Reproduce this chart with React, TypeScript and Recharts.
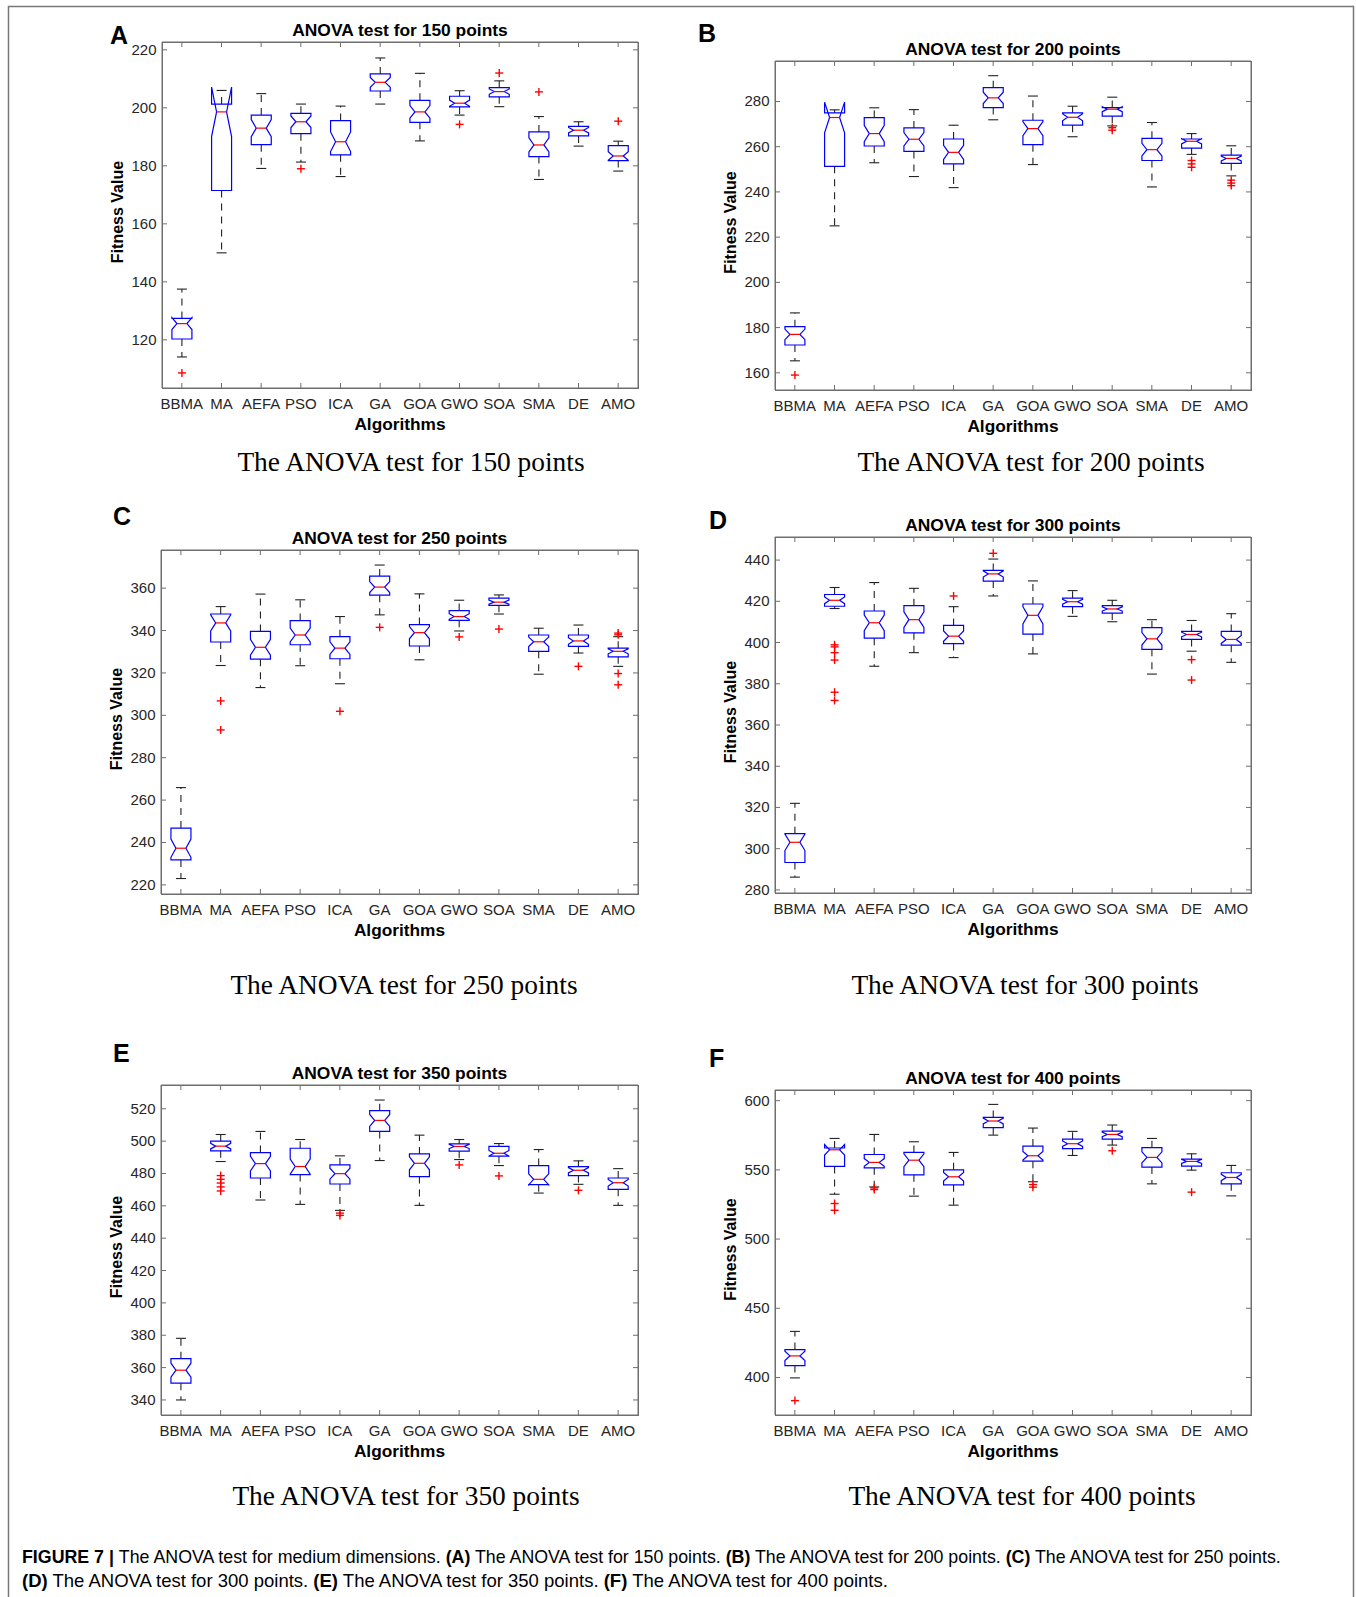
import React from 'react';
import { ComposedChart, Bar, Line, XAxis, YAxis } from 'recharts';

const algorithms = ['BBMA', 'MA', 'AEFA', 'PSO', 'ICA', 'GA', 'GOA', 'GWO', 'SOA', 'SMA', 'DE', 'AMO'];

// Each row: [lower whisker, Q1, median, Q3, upper whisker]
const box150: number[][] = [
  [114.1, 120.3, 125.6, 127.4, 137.5],
  [150.0, 171.5, 198.6, 201.3, 206.0],
  [179.1, 187.3, 193.0, 197.5, 204.9],
  [181.3, 191.1, 195.2, 198.1, 201.3],
  [176.3, 183.8, 188.3, 195.6, 200.6],
  [201.3, 205.8, 208.8, 211.7, 217.2],
  [188.6, 195.0, 198.6, 202.6, 211.9],
  [197.5, 200.3, 201.6, 204.0, 205.9],
  [200.4, 203.8, 205.6, 207.0, 209.3],
  [175.3, 183.2, 187.2, 191.7, 197.0],
  [186.8, 190.3, 192.3, 193.6, 195.2],
  [178.2, 181.8, 183.4, 187.0, 188.5],
];
const out150: number[][] = [[108.6], [], [], [179.0], [], [], [], [194.3], [212.0], [205.5], [], [195.4]];
const ticks150 = [120, 140, 160, 180, 200, 220];
const domain150: [number, number] = [103.4, 222.7];

const box200: number[][] = [
  [165.3, 172.3, 177.0, 180.4, 186.5],
  [225.0, 251.3, 272.9, 275.0, 276.3],
  [252.9, 260.3, 265.8, 272.9, 277.2],
  [246.8, 257.9, 263.3, 268.3, 276.4],
  [241.9, 252.4, 257.5, 263.4, 269.5],
  [271.9, 277.3, 281.6, 286.1, 291.4],
  [252.1, 260.9, 268.0, 271.7, 282.4],
  [264.4, 269.5, 273.0, 275.0, 277.9],
  [269.2, 273.5, 276.6, 277.3, 281.9],
  [242.2, 253.9, 258.7, 263.7, 270.7],
  [256.6, 259.4, 262.4, 263.4, 265.8],
  [247.1, 252.6, 254.8, 256.3, 260.4],
];
const out200: number[][] = [[159.0], [], [], [], [], [], [], [], [268.4, 267.3], [], [253.9, 252.4, 250.9], [245.2, 243.9, 242.8]];
const ticks200 = [160, 180, 200, 220, 240, 260, 280];
const domain200: [number, number] = [152.4, 297.9];

const box250: number[][] = [
  [223.0, 231.8, 237.3, 246.8, 265.9],
  [323.5, 334.6, 343.6, 347.8, 351.3],
  [313.1, 326.5, 332.1, 339.6, 357.2],
  [323.4, 333.3, 337.9, 344.7, 354.5],
  [314.9, 326.7, 331.7, 337.1, 346.6],
  [347.4, 356.7, 360.5, 365.7, 370.9],
  [326.2, 332.7, 339.0, 342.8, 357.3],
  [339.8, 344.8, 346.6, 349.4, 354.3],
  [347.8, 351.9, 353.4, 355.3, 356.8],
  [319.4, 330.2, 334.7, 337.9, 341.1],
  [329.4, 332.5, 335.1, 337.9, 342.6],
  [323.1, 327.6, 330.2, 331.7, 337.1],
];
const out250: number[][] = [[], [306.8, 293.1], [], [], [301.9], [341.5], [], [337.0], [340.7], [], [323.1], [338.8, 338.0, 319.7, 314.4]];
const ticks250 = [220, 240, 260, 280, 300, 320, 340, 360];
const domain250: [number, number] = [215.7, 378.0];

const box300: number[][] = [
  [286.2, 293.3, 303.1, 307.3, 322.0],
  [416.5, 417.6, 420.5, 423.3, 426.7],
  [388.5, 402.1, 409.6, 415.3, 429.1],
  [395.1, 404.7, 411.1, 417.9, 426.3],
  [392.7, 399.5, 403.1, 408.3, 417.4],
  [422.6, 429.8, 433.3, 435.0, 440.5],
  [394.5, 404.1, 413.2, 418.7, 429.9],
  [412.7, 417.4, 419.8, 421.5, 425.2],
  [410.1, 414.3, 416.3, 417.9, 420.5],
  [384.7, 396.7, 401.8, 407.2, 411.1],
  [395.8, 401.5, 403.9, 405.4, 410.7],
  [390.4, 398.7, 401.5, 405.4, 414.0],
];
const out300: number[][] = [[], [398.9, 397.9, 395.1, 391.5, 375.9, 371.9], [], [], [422.6], [443.3], [], [], [], [], [391.7, 381.8], []];
const ticks300 = [280, 300, 320, 340, 360, 380, 400, 420, 440];
const domain300: [number, number] = [278.5, 451.2];

const box350: number[][] = [
  [340.0, 350.4, 358.4, 365.5, 378.1],
  [487.4, 494.0, 496.9, 500.0, 504.1],
  [463.6, 477.2, 486.1, 492.9, 506.0],
  [460.9, 479.3, 484.3, 495.6, 501.0],
  [457.2, 473.5, 479.9, 485.3, 490.9],
  [488.0, 506.0, 512.8, 518.8, 525.4],
  [460.3, 478.1, 486.3, 492.1, 503.7],
  [488.6, 493.8, 496.7, 498.3, 501.0],
  [484.9, 490.7, 492.5, 496.7, 498.5],
  [467.9, 473.1, 476.4, 484.9, 494.8],
  [473.3, 478.7, 482.0, 484.3, 487.8],
  [460.3, 470.2, 474.3, 477.2, 483.0],
];
const out350: number[][] = [[], [478.7, 476.4, 474.1, 471.7, 469.2], [], [], [455.5, 454.1], [], [], [485.3], [478.5], [], [469.6], []];
const ticks350 = [340, 360, 380, 400, 420, 440, 460, 480, 500, 520];
const domain350: [number, number] = [330.7, 534.7];

const box400: number[][] = [
  [399.7, 408.6, 415.6, 420.2, 433.3],
  [532.4, 552.5, 564.5, 565.8, 572.7],
  [537.7, 551.5, 555.4, 561.1, 575.6],
  [531.0, 546.4, 557.0, 562.6, 570.3],
  [524.5, 539.2, 545.0, 550.0, 562.6],
  [575.1, 580.5, 585.3, 587.9, 597.3],
  [541.4, 556.3, 560.2, 567.2, 580.2],
  [560.4, 565.3, 568.9, 572.2, 577.8],
  [567.9, 572.2, 575.6, 578.0, 582.4],
  [539.9, 552.0, 559.0, 566.0, 572.7],
  [549.8, 552.7, 556.1, 557.8, 561.6],
  [531.2, 539.9, 544.5, 547.9, 553.2],
];
const out400: number[][] = [[383.3], [525.7, 520.8], [537.0, 535.8], [], [], [], [539.4, 537.5], [], [563.8], [], [533.9], []];
const ticks400 = [400, 450, 500, 550, 600];
const domain400: [number, number] = [372.9, 607.7];

const N_RUNS = 30;

const SANS = '"Liberation Sans", Arial, Helvetica, sans-serif';
const SERIF = '"Liberation Serif", "Times New Roman", serif';
const AXIS = '#6e6e6e';
const TXT = '#262626';
const TICK_LEN = 5;

type PanelCfg = {
  letter: string;
  title: string;
  caption: string;
  box: number[][];
  out: number[][];
  ticks: number[];
  domain: [number, number];
  L: number; T: number; R: number; B: number;
  letterPos: [number, number];
  capPos: [number, number];
};

const panels: PanelCfg[] = [
  { letter: 'A', title: 'ANOVA test for 150 points', caption: 'The ANOVA test for 150 points', box: box150, out: out150, ticks: ticks150, domain: domain150, L: 162, T: 42, R: 638, B: 388, letterPos: [110, 44], capPos: [411, 471] },
  { letter: 'B', title: 'ANOVA test for 200 points', caption: 'The ANOVA test for 200 points', box: box200, out: out200, ticks: ticks200, domain: domain200, L: 775, T: 61, R: 1251, B: 390, letterPos: [698, 42], capPos: [1031, 471] },
  { letter: 'C', title: 'ANOVA test for 250 points', caption: 'The ANOVA test for 250 points', box: box250, out: out250, ticks: ticks250, domain: domain250, L: 161, T: 550, R: 638, B: 894, letterPos: [113, 525], capPos: [404, 994] },
  { letter: 'D', title: 'ANOVA test for 300 points', caption: 'The ANOVA test for 300 points', box: box300, out: out300, ticks: ticks300, domain: domain300, L: 775, T: 537, R: 1251, B: 893, letterPos: [709, 529], capPos: [1025, 994] },
  { letter: 'E', title: 'ANOVA test for 350 points', caption: 'The ANOVA test for 350 points', box: box350, out: out350, ticks: ticks350, domain: domain350, L: 161, T: 1085, R: 638, B: 1415, letterPos: [113, 1062], capPos: [406, 1505] },
  { letter: 'F', title: 'ANOVA test for 400 points', caption: 'The ANOVA test for 400 points', box: box400, out: out400, ticks: ticks400, domain: domain400, L: 775, T: 1090, R: 1251, B: 1415, letterPos: [709, 1067], capPos: [1022, 1505] },
];

function BoxShape(props: any) {
  const { x, y, width, height, payload } = props;
  if (!payload || !isFinite(y) || !isFinite(height)) return null;
  const { lo, q1, med, q3, hi, out } = payload;
  const py = (v: number) => y + (height * (hi - v)) / (hi - lo);
  const cx = x + width / 2;
  const half = (1.57 * (q3 - q1)) / Math.sqrt(N_RUNS);
  const nLo = med - half;
  const nHi = med + half;
  const l = x;
  const r = x + width;
  const nl = x + width * 0.25;
  const nr = x + width * 0.75;
  const pts = [
    [l, py(q1)], [l, py(nLo)], [nl, py(med)], [l, py(nHi)], [l, py(q3)],
    [r, py(q3)], [r, py(nHi)], [nr, py(med)], [r, py(nLo)], [r, py(q1)],
  ].map((p) => `${p[0]},${p[1]}`).join(' ');
  const capHalf = width / 4;
  return (
    <g>
      <line x1={cx} x2={cx} y1={py(q3)} y2={py(hi)} stroke="#222" strokeWidth={1.1} strokeDasharray="7 6" />
      <line x1={cx} x2={cx} y1={py(q1)} y2={py(lo)} stroke="#222" strokeWidth={1.1} strokeDasharray="7 6" />
      <line x1={cx - capHalf} x2={cx + capHalf} y1={py(hi)} y2={py(hi)} stroke="#222" strokeWidth={1.1} />
      <line x1={cx - capHalf} x2={cx + capHalf} y1={py(lo)} y2={py(lo)} stroke="#222" strokeWidth={1.1} />
      <polygon points={pts} fill="none" stroke="#0000ff" strokeWidth={1.2} />
      <line x1={nl} x2={nr} y1={py(med)} y2={py(med)} stroke="#ff0000" strokeWidth={1.2} />
      {(out as number[]).map((v, i) => (
        <g key={i}>
          <line x1={cx - 4} x2={cx + 4} y1={py(v)} y2={py(v)} stroke="#ff0000" strokeWidth={1.4} />
          <line x1={cx} x2={cx} y1={py(v) - 4} y2={py(v) + 4} stroke="#ff0000" strokeWidth={1.4} />
        </g>
      ))}
    </g>
  );
}

function BottomTick(p: any) {
  const { x, y, payload } = p;
  return (
    <g>
      <line x1={x} x2={x} y1={y} y2={y - TICK_LEN} stroke={AXIS} strokeWidth={1} />
      <text x={x} y={y + 20.5} textAnchor="middle" fontSize={15} fontFamily={SANS} fill={TXT}>{payload.value}</text>
    </g>
  );
}
function TopTick(p: any) {
  const { x, y } = p;
  return <line x1={x} x2={x} y1={y} y2={y + TICK_LEN} stroke={AXIS} strokeWidth={1} />;
}
function LeftTick(p: any) {
  const { x, y, payload } = p;
  return (
    <g>
      <line x1={x} x2={x + TICK_LEN} y1={y} y2={y} stroke={AXIS} strokeWidth={1} />
      <text x={x - 5.5} y={y + 5} textAnchor="end" fontSize={15} fontFamily={SANS} fill={TXT}>{payload.value}</text>
    </g>
  );
}
function RightTick(p: any) {
  const { x, y } = p;
  return <line x1={x} x2={x - TICK_LEN} y1={y} y2={y} stroke={AXIS} strokeWidth={1} />;
}

function Panel({ cfg }: { cfg: PanelCfg }) {
  const plotW = cfg.R - cfg.L;
  const plotH = cfg.B - cfg.T;
  const YW = 60, MT = 9, MR = 9, XH = 34;
  const rows = algorithms.map((name, i) => {
    const [lo, q1, med, q3, hi] = cfg.box[i];
    return { name, lo, q1, med, q3, hi, range: [lo, hi], out: cfg.out[i] };
  });
  return (
    <div style={{ position: 'absolute', left: cfg.L - YW, top: cfg.T - MT - 1 }}>
      <ComposedChart
        width={YW + plotW + 1 + MR}
        height={MT + 1 + plotH + XH}
        data={rows}
        margin={{ top: MT, right: MR, bottom: 0, left: 0 }}
        barCategoryGap="25%"
      >
        <XAxis xAxisId="b" dataKey="name" type="category" scale="band" orientation="bottom" height={XH}
          interval={0} tickSize={0} tickMargin={0} tickLine={false}
          axisLine={{ stroke: AXIS, strokeWidth: 1 }} tick={(p: any) => <BottomTick {...p} />} />
        <XAxis xAxisId="t" dataKey="name" type="category" scale="band" orientation="top" height={1}
          interval={0} tickSize={0} tickMargin={0} tickLine={false}
          axisLine={{ stroke: AXIS, strokeWidth: 1 }} tick={(p: any) => <TopTick {...p} />} />
        <YAxis yAxisId="l" type="number" domain={cfg.domain} ticks={cfg.ticks} allowDataOverflow width={YW}
          interval={0} tickSize={0} tickMargin={0} tickLine={false}
          axisLine={{ stroke: AXIS, strokeWidth: 1 }} tick={(p: any) => <LeftTick {...p} />} />
        <YAxis yAxisId="r" orientation="right" type="number" domain={cfg.domain} ticks={cfg.ticks} allowDataOverflow width={1}
          interval={0} tickSize={0} tickMargin={0} tickLine={false}
          axisLine={{ stroke: AXIS, strokeWidth: 1 }} tick={(p: any) => <RightTick {...p} />} />
        <Bar xAxisId="b" yAxisId="l" dataKey="range" isAnimationActive={false} shape={(p: any) => <BoxShape {...p} />} />
        <Line xAxisId="t" yAxisId="r" dataKey="med" stroke="none" dot={false} activeDot={false} legendType="none" isAnimationActive={false} />
      </ComposedChart>
    </div>
  );
}

function PanelTexts({ cfg }: { cfg: PanelCfg }) {
  const cx = (cfg.L + cfg.R) / 2;
  const cy = (cfg.T + cfg.B) / 2 - 3;
  return (
    <g>
      <rect x={cfg.L + 0.5} y={cfg.T + 0.5} width={cfg.R - cfg.L} height={cfg.B - cfg.T} fill="none" stroke={AXIS} strokeWidth={1} />
      <text x={cfg.letterPos[0]} y={cfg.letterPos[1]} fontSize={25} fontWeight="bold" fontFamily={SANS} fill="#000">{cfg.letter}</text>
      <text x={cx} y={cfg.T - 6.5} textAnchor="middle" fontSize={17.4} fontWeight="bold" fontFamily={SANS} fill="#000">{cfg.title}</text>
      <text x={cx} y={cfg.B + 41.5} textAnchor="middle" fontSize={17.3} fontWeight="bold" fontFamily={SANS} fill="#000">Algorithms</text>
      <text x={cfg.L - 39} y={cy} transform={`rotate(-90 ${cfg.L - 39} ${cy})`} textAnchor="middle" fontSize={16} fontWeight="bold" fontFamily={SANS} fill="#000">Fitness Value</text>
      <text x={cfg.capPos[0]} y={cfg.capPos[1]} textAnchor="middle" fontSize={27.4} fontFamily={SERIF} fill="#000">{cfg.caption}</text>
    </g>
  );
}

export default function App() {
  return (
    <div style={{ position: 'absolute', left: 0, top: 0, width: 1356, height: 1597, background: '#fff', overflow: 'hidden' }}>
      <svg width={1356} height={1597} style={{ position: 'absolute', left: 0, top: 0 }}>
        <path d="M8.5,1597 L8.5,6.5 L1353.5,6.5 L1353.5,1597" fill="none" stroke="#777" strokeWidth={1.5} />
        {panels.map((p) => <PanelTexts key={p.letter} cfg={p} />)}
        <text x={22} y={1563} fontSize={17.8} fontFamily={SANS} fill="#000">
          <tspan fontWeight="bold">FIGURE 7 | </tspan>
          <tspan>The ANOVA test for medium dimensions. </tspan>
          <tspan fontWeight="bold">(A)</tspan>
          <tspan> The ANOVA test for 150 points. </tspan>
          <tspan fontWeight="bold">(B)</tspan>
          <tspan> The ANOVA test for 200 points. </tspan>
          <tspan fontWeight="bold">(C)</tspan>
          <tspan> The ANOVA test for 250 points.</tspan>
        </text>
        <text x={22} y={1587} fontSize={18.5} fontFamily={SANS} fill="#000">
          <tspan fontWeight="bold">(D)</tspan>
          <tspan> The ANOVA test for 300 points. </tspan>
          <tspan fontWeight="bold">(E)</tspan>
          <tspan> The ANOVA test for 350 points. </tspan>
          <tspan fontWeight="bold">(F)</tspan>
          <tspan> The ANOVA test for 400 points.</tspan>
        </text>
      </svg>
      {panels.map((p) => <Panel key={p.letter} cfg={p} />)}
    </div>
  );
}
